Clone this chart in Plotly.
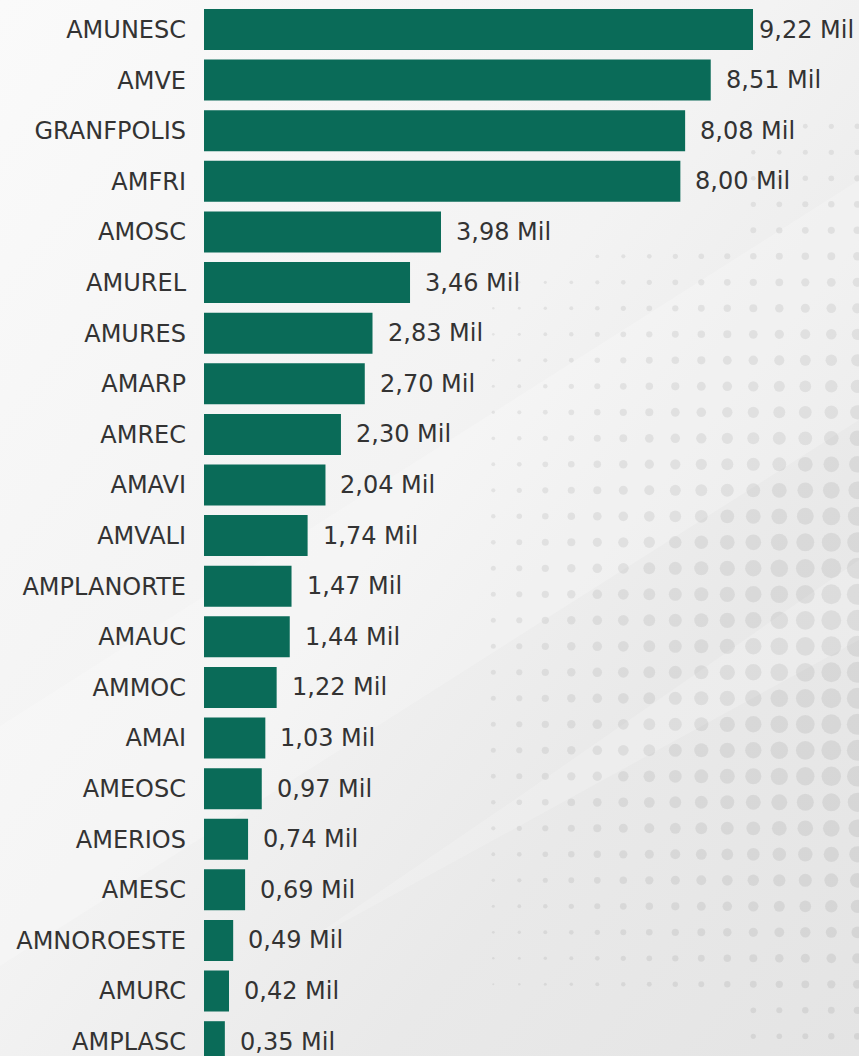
import base64
import plotly.graph_objects as go

# ---------------- data ----------------
categories = ["AMUNESC", "AMVE", "GRANFPOLIS", "AMFRI", "AMOSC", "AMUREL", "AMURES",
              "AMARP", "AMREC", "AMAVI", "AMVALI", "AMPLANORTE", "AMAUC", "AMMOC",
              "AMAI", "AMEOSC", "AMERIOS", "AMESC", "AMNOROESTE", "AMURC", "AMPLASC"]
values = [9.22, 8.51, 8.08, 8.00, 3.98, 3.46, 2.83, 2.70, 2.30, 2.04, 1.74,
          1.47, 1.44, 1.22, 1.03, 0.97, 0.74, 0.69, 0.49, 0.42, 0.35]
unit = "Mil"

# ---------------- style ----------------
W, H = 859, 1056
L = 204
BAR = "#0a6b58"
TXT = "#333333"
FONT = "DejaVu Sans"
FS = 24
XMAX = 11.0
plot_w = W - L
ppu = plot_w / XMAX

labels = [f"{v:.2f}".replace(".", ",") + " " + unit for v in values]


# ---------------- decorative background (svg) ----------------
def background_svg():
    parts = [f'<svg xmlns="http://www.w3.org/2000/svg" width="{W}" height="{H}" viewBox="0 0 {W} {H}">',
             '<defs><linearGradient id="g" x1="0" y1="0" x2="1" y2="1">'
             '<stop offset="0" stop-color="#fafafa"/>'
             '<stop offset="0.45" stop-color="#f3f3f3"/>'
             '<stop offset="0.72" stop-color="#e9e9e9"/>'
             '<stop offset="1" stop-color="#e4e4e4"/>'
             '</linearGradient></defs>',
             f'<rect x="0" y="0" width="{W}" height="{H}" fill="url(#g)"/>',
             f'<polygon points="0,{H-90} 0,{H-330} {W},180 {W},420" fill="#ffffff" fill-opacity="0.22"/>',
             f'<polygon points="300,{H-110} 520,{H-260} {W},560 {W},640" fill="#ffffff" fill-opacity="0.18"/>']
    x0, step = 493.3, 26.0
    ys = [724.3 + step * k for k in range(-23, 13)]
    for y in ys:
        # vertical scaling of the halftone dots
        if y <= 700:
            v = 0.26 + 0.74 * max(0.0, min(1.0, (y - 140) / 420.0)) ** 1.3
        else:
            v = 1.0 - 0.68 * max(0.0, min(1.0, (y - 770) / 250.0))
        if y < 140:
            xmin = 800
        elif y < 245:
            xmin = 750
        elif y < 270:
            xmin = 595
        elif y < 295:
            xmin = 515
        elif y > 1000:
            xmin = 750
        else:
            xmin = 490
        for c in range(16):
            x = x0 + step * c
            if x < xmin:
                continue
            r = (2.5 + 8.0 * (x - 493.3) / 364.0) * v
            if r < 0.7:
                continue
            parts.append(f'<circle cx="{x:.1f}" cy="{y:.1f}" r="{r:.2f}" fill="#000" fill-opacity="0.065"/>')
    parts.append('</svg>')
    return "data:image/svg+xml;base64," + base64.b64encode("".join(parts).encode()).decode()


fig = go.Figure()
fig.add_trace(go.Bar(
    x=values, y=categories, orientation="h",
    marker=dict(color=BAR, line=dict(width=0)),
    hoverinfo="x+y",
))

# value labels
label_w_px = 96
for cat, v, lab in zip(categories, values, labels):
    end_px = v * ppu
    if end_px + 15 + label_w_px > plot_w:
        fig.add_annotation(x=XMAX, y=cat, text=lab, showarrow=False, xanchor="right",
                           yanchor="middle", xshift=-3,
                           font=dict(family=FONT, size=FS, color=TXT))
    else:
        fig.add_annotation(x=v, y=cat, text=lab, showarrow=False, xanchor="left",
                           yanchor="middle", xshift=13,
                           font=dict(family=FONT, size=FS, color=TXT))

pitch = 50.61
top_off = 29.5 / pitch
fig.update_layout(
    width=W, height=H,
    margin=dict(l=L, r=0, t=0, b=0, pad=0),
    paper_bgcolor="#f2f2f2",
    plot_bgcolor="rgba(0,0,0,0)",
    bargap=0.19,
    showlegend=False,
    font=dict(family=FONT, size=FS, color=TXT),
    xaxis=dict(range=[0, XMAX], visible=False, showgrid=False, zeroline=False, fixedrange=True),
    yaxis=dict(range=[-top_off + H / pitch, -top_off], showgrid=False, zeroline=False,
               showline=False, ticks="", ticklabelstandoff=17,
               tickfont=dict(family=FONT, size=FS, color=TXT), fixedrange=True),
    images=[dict(source=background_svg(), xref="paper", yref="paper",
                 x=-L / plot_w, y=1, sizex=W / plot_w, sizey=1,
                 xanchor="left", yanchor="top", sizing="stretch", layer="below")],
)

fig.write_html("out.html", config={"displayModeBar": False},
               post_script="document.body.style.margin='0';document.body.style.overflow='hidden';")
